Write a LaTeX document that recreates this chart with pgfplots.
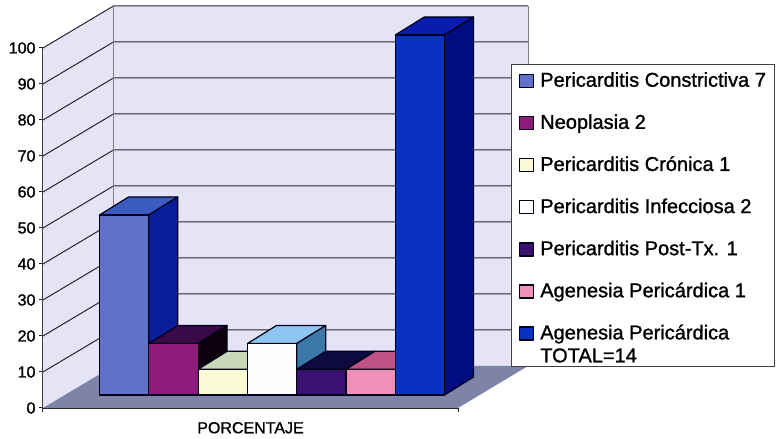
\documentclass[border=0pt]{standalone}
\usepackage{fontspec}
\setmainfont[FakeBold=1.2]{Liberation Sans}
\usepackage{pgfplots}
\pgfplotsset{compat=1.18}
\definecolor{wall}{HTML}{E5E3F6}
\definecolor{floorc}{HTML}{7D84A8}
\definecolor{gridc}{HTML}{26262E}
\definecolor{aF}{HTML}{5F72C8}\definecolor{aT}{HTML}{3A5CC0}\definecolor{aS}{HTML}{0A1E9C}
\definecolor{bF}{HTML}{8E1A7C}\definecolor{bT}{HTML}{3A0A48}\definecolor{bS}{HTML}{0C000C}
\definecolor{cF}{HTML}{FAFAD4}\definecolor{cT}{HTML}{C8D8B8}\definecolor{cS}{HTML}{9AA080}
\definecolor{dF}{HTML}{FDFDFF}\definecolor{dT}{HTML}{8EC4F0}\definecolor{dS}{HTML}{3A78A8}
\definecolor{eF}{HTML}{3A1070}\definecolor{eT}{HTML}{0C0A40}\definecolor{eS}{HTML}{000020}
\definecolor{fF}{HTML}{EE90B8}\definecolor{fT}{HTML}{C05088}\definecolor{fS}{HTML}{803060}
\definecolor{gF}{HTML}{0A32C0}\definecolor{gT}{HTML}{0A1CB0}\definecolor{gS}{HTML}{000C80}
\pgfplotsset{
 face/.style={draw=black!90!blue,line width=1.2pt,line join=round,forget plot},
 front/.style={draw=black!90!blue,line width=1.2pt,line join=round},
}
\begin{document}
\begin{tikzpicture}
\begin{axis}[
 x=1pt,y=3.6pt,xmin=43,xmax=458,ymin=0,ymax=100,
 clip=false,
 axis x line*=bottom,axis y line*=left,
 axis line style={-,black!85,line width=1.2pt},
 xtick={43,458},xticklabels={},
 ytick={0,10,...,100},
 tick align=outside,tick style={black!85,line width=1pt},
 major tick length=4pt,
 /pgf/number format/assume math mode=true,
 tick label style={font=\fontsize{16}{18}\selectfont},
 xlabel={PORCENTAJE},
 xlabel style={font=\fontsize{16}{18}\selectfont,at={(axis cs:250.5,-5.5)},anchor=center},
 legend style={draw=none,fill=none,at={(axis cs:518.5,93.4)},anchor=north west,
   inner sep=0pt,outer sep=0pt,row sep=22.6pt,
   font=\fontsize{20}{24}\selectfont,cells={anchor=west},
   nodes={inner xsep=6.5pt,inner ysep=0pt,text height=15pt,text depth=4.5pt}},
 legend cell align=left,
 legend image code/.code={\draw[#1,line width=1.3pt] (0pt,-6pt) rectangle (14pt,7pt);},
]
% walls and floor
\addplot[fill=wall,draw=none,forget plot] coordinates {(43,0)(113.5,11.67)(113.5,111.67)(43,100)} -- cycle;
\addplot[fill=wall,draw=none,forget plot] coordinates {(113.5,11.67)(528,11.67)(528,111.67)(113.5,111.67)} -- cycle;
\addplot[fill=floorc,draw=none,forget plot] coordinates {(43,0)(113.5,11.67)(528,11.67)(458,0)} -- cycle;
\addplot[gridc,line width=1pt,forget plot,unbounded coords=jump] coordinates {
 (43,10)(113.5,21.67)(528,21.67) (nan,nan)
 (43,20)(113.5,31.67)(528,31.67) (nan,nan)
 (43,30)(113.5,41.67)(528,41.67) (nan,nan)
 (43,40)(113.5,51.67)(528,51.67) (nan,nan)
 (43,50)(113.5,61.67)(528,61.67) (nan,nan)
 (43,60)(113.5,71.67)(528,71.67) (nan,nan)
 (43,70)(113.5,81.67)(528,81.67) (nan,nan)
 (43,80)(113.5,91.67)(528,91.67) (nan,nan)
 (43,90)(113.5,101.67)(528,101.67) (nan,nan)
 (43,100)(113.5,111.67)(528,111.67)
};
\addplot[gray,line width=0.7pt,forget plot] coordinates {(113.5,11.67)(113.5,111.67)};
\addplot[gray,line width=0.7pt,forget plot] coordinates {(528,11.67)(528,111.67)};
% bar 1: 50
\addplot[face,fill=aT] coordinates {(99.5,53.61)(148.8,53.61)(177.8,58.61)(128.5,58.61)} -- cycle;
\addplot[face,fill=aS] coordinates {(148.8,3.61)(177.8,8.61)(177.8,58.61)(148.8,53.61)} -- cycle;
\addplot[front,fill=aF] coordinates {(99.5,3.61)(148.8,3.61)(148.8,53.61)(99.5,53.61)} -- cycle;
\addlegendentry{Pericarditis Constrictiva 7}
% bar 2: 14.29
\addplot[face,fill=bT] coordinates {(148.8,17.9)(198.1,17.9)(227.1,22.9)(177.8,22.9)} -- cycle;
\addplot[face,fill=bS] coordinates {(198.1,3.61)(227.1,8.61)(227.1,22.9)(198.1,17.9)} -- cycle;
\addplot[front,fill=bF] coordinates {(148.8,3.61)(198.1,3.61)(198.1,17.9)(148.8,17.9)} -- cycle;
\addlegendentry{Neoplasia 2}
% bar 3: 7.14
\addplot[face,fill=cT] coordinates {(198.1,10.75)(247.4,10.75)(276.4,15.75)(227.1,15.75)} -- cycle;
\addplot[face,fill=cS] coordinates {(247.4,3.61)(276.4,8.61)(276.4,15.75)(247.4,10.75)} -- cycle;
\addplot[front,fill=cF] coordinates {(198.1,3.61)(247.4,3.61)(247.4,10.75)(198.1,10.75)} -- cycle;
\addlegendentry{Pericarditis Crónica 1}
% bar 4: 14.29
\addplot[face,fill=dT] coordinates {(247.4,17.9)(296.7,17.9)(325.7,22.9)(276.4,22.9)} -- cycle;
\addplot[face,fill=dS] coordinates {(296.7,3.61)(325.7,8.61)(325.7,22.9)(296.7,17.9)} -- cycle;
\addplot[front,fill=dF] coordinates {(247.4,3.61)(296.7,3.61)(296.7,17.9)(247.4,17.9)} -- cycle;
\addlegendentry{Pericarditis Infecciosa 2}
% bar 5: 7.14
\addplot[face,fill=eT] coordinates {(296.7,10.75)(346,10.75)(375,15.75)(325.7,15.75)} -- cycle;
\addplot[face,fill=eS] coordinates {(346,3.61)(375,8.61)(375,15.75)(346,10.75)} -- cycle;
\addplot[front,fill=eF] coordinates {(296.7,3.61)(346,3.61)(346,10.75)(296.7,10.75)} -- cycle;
\addlegendentry{Pericarditis Post-Tx. 1}
% bar 6: 7.14
\addplot[face,fill=fT] coordinates {(346,10.75)(395.3,10.75)(424.3,15.75)(375,15.75)} -- cycle;
\addplot[face,fill=fS] coordinates {(395.3,3.61)(424.3,8.61)(424.3,15.75)(395.3,10.75)} -- cycle;
\addplot[front,fill=fF] coordinates {(346,3.61)(395.3,3.61)(395.3,10.75)(346,10.75)} -- cycle;
\addlegendentry{Agenesia Pericárdica 1}
% bar 7: 100
\addplot[face,fill=gT] coordinates {(395.3,103.61)(444.6,103.61)(473.6,108.61)(424.3,108.61)} -- cycle;
\addplot[face,fill=gS] coordinates {(444.6,3.61)(473.6,8.61)(473.6,108.61)(444.6,103.61)} -- cycle;
\addplot[front,fill=gF] coordinates {(395.3,3.61)(444.6,3.61)(444.6,103.61)(395.3,103.61)} -- cycle;
\addlegendentry{\smash{\begin{tabular}[t]{@{}l@{}}Agenesia Pericárdica\\[-1pt]TOTAL=14\end{tabular}}}
% legend box and picture extent
\fill[white,draw=black!75,line width=0.9pt] (axis cs:511,95.3) rectangle (axis cs:774,11.4);
\path (axis cs:0,113.33) rectangle (axis cs:777,-8.61);
\end{axis}
\end{tikzpicture}
\end{document}
